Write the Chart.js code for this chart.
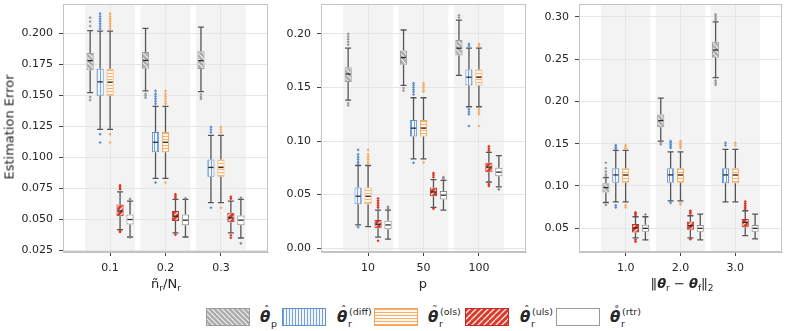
<!DOCTYPE html>
<html>
<head>
<meta charset="utf-8">
<script src="https://cdn.jsdelivr.net/npm/chart.js@4.4.1/dist/chart.umd.min.js"></script>
<style>
  body { margin: 0; background: #fff; }
  #fig { position: relative; width: 786px; height: 331px; overflow: hidden; font-family: 'DejaVu Sans', sans-serif; color: #262626; }
  #fig canvas { position: absolute; top: 0; }
  #fig canvas.patch { top: 308px; }
  .ttl { position: absolute; top: 276px; font-size: 13px; white-space: nowrap; transform: translateX(-50%); }
  .ttl sub { font-size: 9px; vertical-align: -3px; line-height: 0; }
  .bi { font-weight: bold; font-style: italic; }
  .nb { letter-spacing: -2px; margin-right: 2px; }
  #ylab { position: absolute; left: 9px; top: 127px; font-size: 13px; color: #222; white-space: nowrap; transform: translate(-50%, -50%) rotate(-90deg); }
  .lab { position: absolute; top: 305px; width: 40px; height: 26px; }
  .lab .th { position: absolute; left: 0; top: 5px; font: bold italic 15px/1 'DejaVu Sans'; }
  .lab .ac { position: absolute; left: 4px; top: 0px; font: 11px/1 'DejaVu Sans'; }
  .lab .sp { position: absolute; left: 12px; top: 2px; font: 9.5px/1 'DejaVu Sans'; }
  .lab .sb { position: absolute; left: 11px; top: 14px; font: 9.5px/1 'DejaVu Sans'; }
</style>
</head>
<body>
<div id="fig">
  <canvas id="c0" width="272" height="280" style="left:0px"></canvas>
  <canvas id="c1" width="258" height="280" style="left:272px"></canvas>
  <canvas id="c2" width="256" height="280" style="left:530px"></canvas>

  <div id="ylab">Estimation Error</div>
  <div class="ttl" style="left:166px">ñ<sub>r</sub>/N<sub>r</sub></div>
  <div class="ttl" style="left:423px">p</div>
  <div class="ttl" style="left:682px"><span class="nb">||</span><span class="bi">θ</span><sub>r</sub> − <span class="bi">θ</span><sub>f</sub><span class="nb">||</span><sub>2</sub></div>

  <canvas class="patch" id="lg0" width="44" height="18" style="left:206px"></canvas>
  <div class="lab" style="left:260px"><span class="th">θ</span><span class="ac">ˆ</span><span class="sb">p</span></div>
  <canvas class="patch" id="lg1" width="44" height="18" style="left:282px"></canvas>
  <div class="lab" style="left:337px"><span class="th">θ</span><span class="ac">ˆ</span><span class="sp">(diff)</span><span class="sb">r</span></div>
  <canvas class="patch" id="lg2" width="44" height="18" style="left:374px"></canvas>
  <div class="lab" style="left:428px"><span class="th">θ</span><span class="ac">˜</span><span class="sp">(ols)</span><span class="sb">r</span></div>
  <canvas class="patch" id="lg3" width="44" height="18" style="left:465px"></canvas>
  <div class="lab" style="left:520px"><span class="th">θ</span><span class="ac">ˆ</span><span class="sp">(uls)</span><span class="sb">r</span></div>
  <canvas class="patch" id="lg4" width="44" height="18" style="left:556px"></canvas>
  <div class="lab" style="left:610px"><span class="th">θ</span><span class="ac">˚</span><span class="sp">(rtr)</span><span class="sb">r</span></div>
</div>

<script>
// categories per panel
const catsP1 = ['0.1', '0.2', '0.3'];
const catsP2 = ['10', '50', '100'];
const catsP3 = ['1.0', '2.0', '3.0'];

// y tick labels per panel
const yTicksP1 = [0.025, 0.05, 0.075, 0.1, 0.125, 0.15, 0.175, 0.2];
const yTicksP2 = [0, 0.05, 0.1, 0.15, 0.2];
const yTicksP3 = [0.05, 0.1, 0.15, 0.2, 0.25, 0.3];

// box stats [whisker lo, q1, median, q3, whisker hi], per panel -> per category
const boxThetaP = [
  [[0.152, 0.170, 0.1778, 0.184, 0.202], [0.1534, 0.1713, 0.178, 0.1848, 0.2038], [0.1528, 0.171, 0.1778, 0.1853, 0.2049]],
  [[0.1382, 0.1552, 0.1626, 0.169, 0.1867], [0.152, 0.1713, 0.178, 0.1845, 0.2037], [0.1614, 0.18, 0.1867, 0.1944, 0.213]],
  [[0.0804, 0.0921, 0.098, 0.1032, 0.1098], [0.153, 0.1694, 0.1773, 0.1844, 0.2039], [0.2282, 0.2518, 0.2608, 0.2706, 0.2941]],
];
const boxDiff = [
  [[0.1224, 0.1495, 0.1607, 0.1713, 0.2016], [0.0828, 0.104, 0.112, 0.1202, 0.141], [0.0633, 0.0842, 0.0917, 0.098, 0.1175]],
  [[0.0216, 0.041, 0.0484, 0.0565, 0.0771], [0.0833, 0.1043, 0.112, 0.1197, 0.1404], [0.132, 0.1519, 0.1596, 0.1667, 0.1867]],
  [[0.0812, 0.1039, 0.113, 0.1208, 0.142], [0.0824, 0.1039, 0.113, 0.1208, 0.1404], [0.0812, 0.1032, 0.113, 0.1208, 0.1432]],
];
const boxOls = [
  [[0.1224, 0.1495, 0.1605, 0.1713, 0.2016], [0.0828, 0.104, 0.112, 0.1202, 0.141], [0.0633, 0.0842, 0.0917, 0.098, 0.1175]],
  [[0.0201, 0.041, 0.0484, 0.0565, 0.0771], [0.0833, 0.1043, 0.112, 0.1197, 0.1404], [0.132, 0.1519, 0.1596, 0.1667, 0.1867]],
  [[0.0812, 0.1039, 0.113, 0.1208, 0.142], [0.0824, 0.1039, 0.113, 0.1208, 0.1404], [0.0812, 0.1032, 0.113, 0.1208, 0.1432]],
];
const boxUls = [
  [[0.0415, 0.0524, 0.0565, 0.0619, 0.072], [0.0389, 0.0484, 0.0524, 0.0565, 0.066], [0.039, 0.0475, 0.051, 0.0551, 0.0646]],
  [[0.0102, 0.0185, 0.0222, 0.0262, 0.0355], [0.038, 0.0484, 0.0524, 0.0565, 0.0639], [0.0617, 0.0709, 0.0756, 0.0796, 0.0894]],
  [[0.0385, 0.045, 0.0502, 0.055, 0.0635], [0.0385, 0.0482, 0.053, 0.058, 0.0647], [0.0412, 0.051, 0.0568, 0.0608, 0.0706]],
];
const boxRtr = [
  [[0.0356, 0.0456, 0.0497, 0.0537, 0.0646], [0.0356, 0.045, 0.0492, 0.0537, 0.0659], [0.0348, 0.045, 0.0492, 0.0529, 0.066]],
  [[0.0083, 0.0176, 0.0216, 0.0256, 0.0355], [0.0355, 0.0454, 0.0494, 0.0533, 0.0633], [0.0571, 0.067, 0.0709, 0.075, 0.0864]],
  [[0.0361, 0.0459, 0.0498, 0.0541, 0.0635], [0.0361, 0.0459, 0.0498, 0.0537, 0.0667], [0.0373, 0.0459, 0.0498, 0.0537, 0.0667]],
];

// outliers, per panel -> per category
const flyThetaP = [
  [[0.2125, 0.2093, 0.2057, 0.1485, 0.146], [0.151, 0.1495, 0.148], [0.1505, 0.1485, 0.147]],
  [[0.2, 0.1975, 0.195, 0.1925, 0.19, 0.1355, 0.1333], [0.1495, 0.147], [0.2175, 0.2155]],
  [[0.1274, 0.121, 0.117, 0.1135, 0.1115, 0.0775], [0.151, 0.149], [0.303, 0.301, 0.2985, 0.2965, 0.2245, 0.222, 0.2196]],
];
const flyDiff = [
  [[0.2157, 0.2135, 0.2115, 0.2095, 0.2075, 0.2055, 0.2035, 0.1185, 0.1118], [0.1534, 0.151, 0.149, 0.147, 0.145, 0.143, 0.0795], [0.1243, 0.1222, 0.12, 0.0592]],
  [[0.0917, 0.0875, 0.085, 0.0828, 0.0805, 0.0785, 0.0196], [0.154, 0.152, 0.15, 0.148, 0.146, 0.1435, 0.0796], [0.1907, 0.1888, 0.1295, 0.1272, 0.125, 0.114]],
  [[0.1482, 0.146, 0.1442, 0.077, 0.0745], [0.153, 0.151, 0.149, 0.147, 0.145, 0.08], [0.151, 0.148]],
];
const flyOls = [
  [[0.2157, 0.2135, 0.2115, 0.2095, 0.2075, 0.2055, 0.2035, 0.1185, 0.1118], [0.1534, 0.151, 0.149, 0.147, 0.145, 0.143, 0.0795], [0.1243, 0.1222, 0.12, 0.0592]],
  [[0.0917, 0.0875, 0.085, 0.0828, 0.0805, 0.0785], [0.154, 0.152, 0.15, 0.148, 0.146, 0.08], [0.1907, 0.1888, 0.1295, 0.1272, 0.125, 0.114]],
  [[0.1482, 0.146, 0.1442, 0.077, 0.0745], [0.153, 0.151, 0.149, 0.147, 0.145, 0.08, 0.078], [0.151, 0.148]],
];
const flyUls = [
  [[0.0773, 0.0758, 0.0742, 0.0405, 0.0397], [0.07, 0.0685, 0.067, 0.0375], [0.068, 0.0665, 0.037, 0.035]],
  [[0.0463, 0.0442, 0.042, 0.0398, 0.0378, 0.0068], [0.07, 0.0682, 0.0662, 0.0368], [0.095, 0.093, 0.091, 0.0598, 0.058]],
  [[0.0686, 0.067, 0.0655, 0.0362, 0.034], [0.0706, 0.069, 0.0672, 0.037], [0.0815, 0.0792, 0.077, 0.0748, 0.0728]],
];
const flyRtr = [
  [[0.0662, 0.0352], [0.0668], [0.0672, 0.0305]],
  [[0.0385, 0.0368], [0.0662, 0.0648], [0.0548]],
  [[0.0662], [], []],
];

// ---- styling ----
function hatch(bg, fg, kind, size, lw) {
  const c = document.createElement('canvas');
  c.width = c.height = size;
  const g = c.getContext('2d');
  g.fillStyle = bg;
  g.fillRect(0, 0, size, size);
  if (fg) {
    g.strokeStyle = fg;
    g.lineWidth = lw;
    g.beginPath();
    if (kind === 'v') { g.moveTo(size / 2, 0); g.lineTo(size / 2, size); }
    if (kind === 'h') { g.moveTo(0, size / 2); g.lineTo(size, size / 2); }
    if (kind === 'b') { for (let k = -1; k <= 1; k++) { g.moveTo(k * size, 0); g.lineTo(k * size + size, size); } }
    if (kind === 'f') { for (let k = -1; k <= 1; k++) { g.moveTo(k * size, size); g.lineTo(k * size + size, 0); } }
    g.stroke();
  }
  return g.createPattern(c, 'repeat');
}

const series = [
  { box: boxThetaP, fly: flyThetaP, pat: hatch('#ababab', 'rgba(255,255,255,0.85)', 'b', 5, 1.2), edge: '#9c9c9c', dot: '#9a9a9a' },
  { box: boxDiff, fly: flyDiff, pat: hatch('#f3f7fc', '#73a1d8', 'v', 3, 1), edge: '#5f90cf', dot: '#5b8fd0' },
  { box: boxOls, fly: flyOls, pat: hatch('#fff8f1', '#f7b06c', 'h', 3, 1), edge: '#f5a55a', dot: '#f6aa62' },
  { box: boxUls, fly: flyUls, pat: hatch('#d83a2b', 'rgba(255,255,255,0.9)', 'f', 6, 1.3), edge: '#c42e20', dot: '#dd3323' },
  { box: boxRtr, fly: flyRtr, pat: hatch('#ffffff', null, null, 4, 1), edge: '#8a8a8a', dot: '#8a8a8a' },
];
const dodge = [-0.36, -0.18, 0, 0.18, 0.36];

const panels = [
  { id: 'c0', cats: catsP1, yt: yTicksP1, dec: 3, yw: 63, padR: 4, ymin: 0.0235, ymax: 0.2235 },
  { id: 'c1', cats: catsP2, yt: yTicksP2, dec: 2, yw: 49, padR: 4, ymin: -0.0037, ymax: 0.228 },
  { id: 'c2', cats: catsP3, yt: yTicksP3, dec: 2, yw: 49, padR: 2, ymin: 0.0218, ymax: 0.3153 },
];

const boxParts = {
  id: 'boxParts',
  beforeDraw(chart) {
    const { ctx, chartArea: a, scales: { x } } = chart;
    ctx.save();
    ctx.fillStyle = '#f3f3f3';
    chart.options.cats.forEach((c, i) => {
      const x0 = x.getPixelForValue(i - 0.45), x1 = x.getPixelForValue(i + 0.45);
      ctx.fillRect(x0, a.top, x1 - x0, a.bottom - a.top);
    });
    ctx.restore();
  },
  beforeDatasetsDraw(chart) {
    const { ctx, scales: { y } } = chart;
    ctx.save();
    ctx.strokeStyle = '#555555';
    ctx.lineWidth = 1.3;
    chart.data.datasets.forEach((ds, di) => {
      if (!ds.stats) return;
      const meta = chart.getDatasetMeta(di);
      ds.stats.forEach((b, gi) => {
        const px = meta.data[gi].x;
        ctx.beginPath();
        ctx.moveTo(px, y.getPixelForValue(b[0]));
        ctx.lineTo(px, y.getPixelForValue(b[1]));
        ctx.moveTo(px, y.getPixelForValue(b[3]));
        ctx.lineTo(px, y.getPixelForValue(b[4]));
        ctx.moveTo(px - 3, y.getPixelForValue(b[0]));
        ctx.lineTo(px + 3, y.getPixelForValue(b[0]));
        ctx.moveTo(px - 3, y.getPixelForValue(b[4]));
        ctx.lineTo(px + 3, y.getPixelForValue(b[4]));
        ctx.stroke();
      });
    });
    ctx.restore();
  },
  afterDatasetsDraw(chart) {
    const { ctx, chartArea: a, scales: { y } } = chart;
    ctx.save();
    ctx.strokeStyle = '#2b2b2b';
    ctx.lineWidth = 1.3;
    chart.data.datasets.forEach((ds, di) => {
      if (!ds.stats) return;
      const meta = chart.getDatasetMeta(di);
      ds.stats.forEach((b, gi) => {
        const el = meta.data[gi];
        const py = y.getPixelForValue(b[2]);
        ctx.beginPath();
        ctx.moveTo(el.x - el.width / 2 + 1, py);
        ctx.lineTo(el.x + el.width / 2 - 1, py);
        ctx.stroke();
      });
    });
    ctx.strokeStyle = '#c4c4c4';
    ctx.lineWidth = 1;
    ctx.strokeRect(a.left + 0.5, a.top + 0.5, a.right - a.left - 1, a.bottom - a.top - 1);
    ctx.restore();
  }
};

Chart.defaults.font.family = "'DejaVu Sans', sans-serif";
Chart.defaults.font.size = 11;
Chart.defaults.color = '#262626';

panels.forEach((p, k) => {
  const datasets = [];
  series.forEach((s, si) => {
    datasets.push({
      type: 'bar',
      stats: s.box[k],
      data: s.box[k].map((b, gi) => ({ x: gi + dodge[si], y: [b[1], b[3]] })),
      backgroundColor: s.pat,
      borderColor: s.edge,
      borderWidth: 1,
      borderSkipped: false,
      grouped: false,
      barPercentage: 0.9,
      maxBarThickness: 8.6,
      order: 1
    });
  });
  series.forEach((s, si) => {
    const pts = [];
    s.fly[k].forEach((vals, gi) => vals.forEach(v => pts.push({ x: gi + dodge[si], y: v })));
    datasets.push({
      type: 'scatter',
      data: pts,
      pointStyle: 'rectRot',
      pointRadius: 1.6,
      pointBackgroundColor: s.dot,
      pointBorderWidth: 0,
      order: 0
    });
  });

  new Chart(document.getElementById(p.id), {
    type: 'bar',
    data: { datasets },
    plugins: [boxParts],
    options: {
      cats: p.cats,
      responsive: false,
      animation: false,
      events: [],
      layout: { padding: { top: 2, right: p.padR, left: 0, bottom: 0 } },
      plugins: { legend: { display: false }, tooltip: { enabled: false } },
      scales: {
        x: {
          type: 'linear', min: -0.85, max: 2.85, offset: false, bounds: 'data',
          grid: { color: '#e6e6e6', offset: false, tickLength: 4, tickColor: '#444' },
          border: { color: '#c4c4c4' },
          ticks: { padding: 6, autoSkip: false, maxRotation: 0, callback: (v, i) => p.cats[i] },
          afterBuildTicks: s => { s.ticks = p.cats.map((c, i) => ({ value: i })); },
          afterFit: s => { s.height = 28; s.paddingLeft = 0; s.paddingRight = 0; }
        },
        y: {
          type: 'linear', min: p.ymin, max: p.ymax, bounds: 'data',
          grid: { color: '#e6e6e6', tickLength: 4, tickColor: '#444' },
          border: { color: '#c4c4c4' },
          ticks: { padding: 6, autoSkip: false, callback: v => v.toFixed(p.dec) },
          afterBuildTicks: s => { s.ticks = p.yt.map(v => ({ value: v })); },
          afterFit: s => { s.width = p.yw; s.paddingTop = 0; s.paddingBottom = 0; }
        }
      }
    }
  });
});

// legend patches
series.forEach((s, i) => {
  const g = document.getElementById('lg' + i).getContext('2d');
  g.fillStyle = s.pat;
  g.fillRect(0, 0, 44, 18);
  g.strokeStyle = i === 4 ? '#9a9a9a' : s.edge;
  g.lineWidth = 1;
  g.strokeRect(0.5, 0.5, 43, 17);
});
</script>
</body>
</html>
